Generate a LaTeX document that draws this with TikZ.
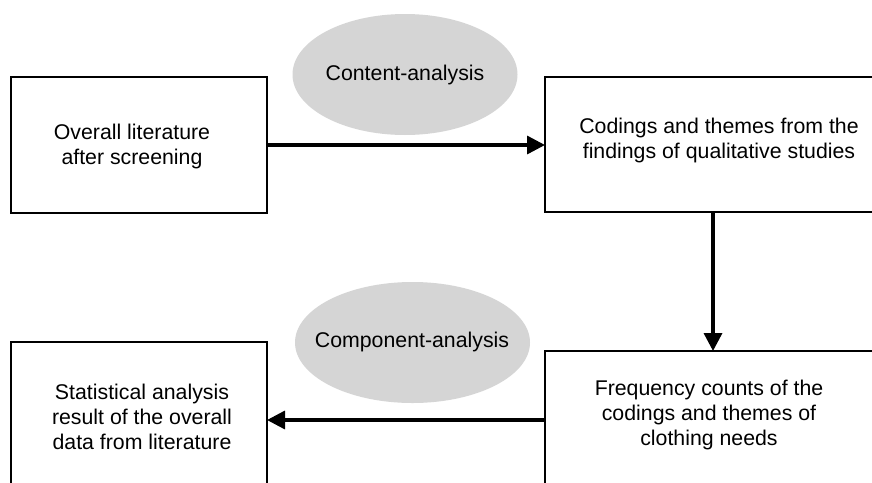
\documentclass[tikz,border=0pt]{standalone}
\usepackage{fontspec}
\setmainfont{Liberation Sans}
\usetikzlibrary{arrows.meta,shapes.geometric,positioning}
\definecolor{bubble}{HTML}{D5D5D5}
\begin{document}
\begin{tikzpicture}[x=1pt,y=-1pt,
  every node/.style={inner sep=0pt,outer sep=0pt},
  stepbox/.style={draw=black,line width=2.2pt,rectangle,anchor=north west},
  label text/.style={font=\fontsize{21.3}{25}\selectfont,align=center},
  bubble/.style={ellipse,fill=bubble,draw=none},
  flow/.style={line width=3.4pt,-{Triangle[length=18pt,width=18pt]}}]
\useasboundingbox (0,0) rectangle (872,482);
\clip (0,0) rectangle (872,482);
\fill[white] (0,0) rectangle (872,482);

% method bubbles
\node[bubble,minimum width=225pt,minimum height=121pt] (content) at (405,74.5) {};
\node[label text] (contentlbl) at (405,75) {Content-analysis};
\node[bubble,minimum width=235pt,minimum height=121pt] (component) at (412.5,342.5) {};
\node[label text] (componentlbl) at (412,342) {Component-analysis};

% process boxes (the right-hand and lower ones run past the frame)
\node[stepbox,minimum width=256pt,minimum height=136pt] (lit) at (11,77) {};
\node[stepbox,minimum width=360pt,minimum height=135pt] (codes) at (545,77) {};
\node[stepbox,minimum width=360pt,minimum height=180pt] (freq) at (545,351) {};
\node[stepbox,minimum width=256pt,minimum height=180pt] (stats) at (11,342) {};

\node[label text] (littext) at (132,146.5) {Overall literature\\after screening};
\node[label text] (codestext) at (719,140.5) {Codings and themes from the\\findings of qualitative studies};
\node[label text] (freqtext) at (709,415) {Frequency counts of the\\codings and themes of\\clothing needs};
\node[label text] (statstext) at (142,417) {Statistical analysis\\result of the overall\\data from literature};

% connectors
\coordinate (downcol) at (713,0);
\coordinate (backrow) at (0,420);
\draw[flow] (lit.east) -- (lit.east -| codes.west);
\draw[flow] (codes.south -| downcol) -- (freq.north -| downcol);
\draw[flow] (freq.west |- backrow) -- (stats.east |- backrow);
\end{tikzpicture}
\end{document}
